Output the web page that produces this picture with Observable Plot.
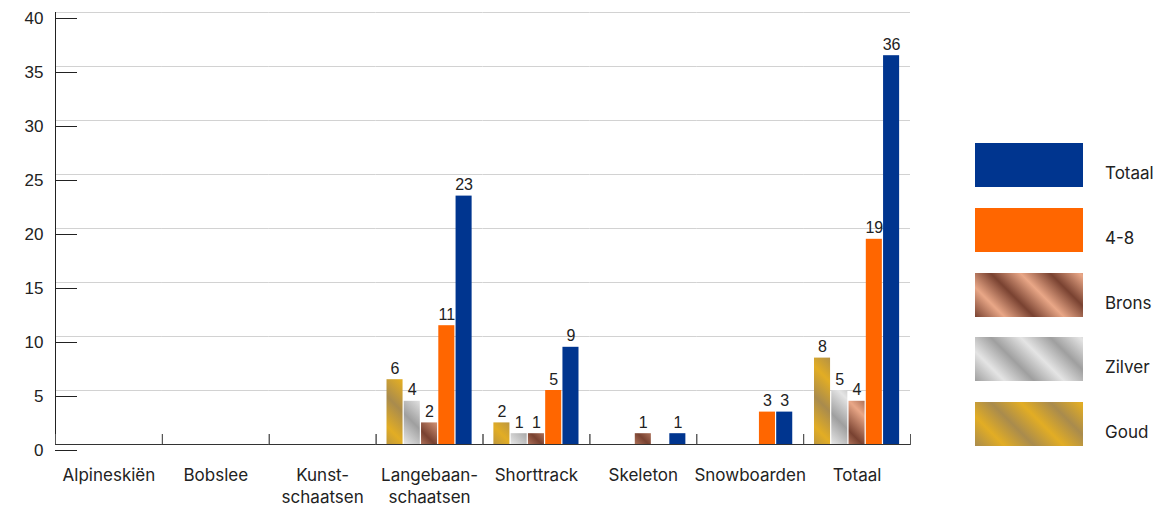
<!DOCTYPE html>
<html><head><meta charset="utf-8">
<script src="https://cdn.jsdelivr.net/npm/d3@7"></script>
<script src="https://cdn.jsdelivr.net/npm/@observablehq/plot@0.6"></script>
<style>
body{margin:0;background:#fff;}
#wrap{position:relative;width:1161px;height:508px;overflow:hidden;}
.sw{position:absolute;left:975px;width:108px;height:44px;}
.lb{position:absolute;left:1105px;font-family:Inter,"Noto Sans",sans-serif;font-size:17px;color:#222;line-height:20px;}
</style>
</head><body>
<div id="wrap"></div>
<script>
const sports = ["Alpineskiën","Bobslee","Kunstschaatsen","Langebaanschaatsen","Shorttrack","Skeleton","Snowboarden","Totaal"];
const sportLabels = ["Alpineskiën","Bobslee","Kunst-\nschaatsen","Langebaan-\nschaatsen","Shorttrack","Skeleton","Snowboarden","Totaal"];
const seriesNames = ["Goud","Zilver","Brons","4-8","Totaal"];
const goud   = [0,0,0,6,2,0,0,8];
const zilver = [0,0,0,4,1,0,0,5];
const brons  = [0,0,0,2,1,1,0,4];
const plek48 = [0,0,0,11,5,0,3,19];
const totaal = [0,0,0,23,9,1,3,36];
const yTicks = [0,5,10,15,20,25,30,35,40];
const legendOrder = ["Totaal","4-8","Brons","Zilver","Goud"];

const values = [goud, zilver, brons, plek48, totaal];
const seriesFills = ["url(#g-goud)","url(#g-zilver)","url(#g-brons)","#ff6600","#00358f"];
const grads = {
  "g-goud":["#a98b4d","#e2ad24"],
  "g-zilver":["#9f9f9f","#e4e4e4"],
  "g-brons":["#794231","#e9a787"]
};

const rows = [];
sports.forEach((s,i)=>seriesNames.forEach((n,j)=>rows.push({sport:s, series:n, value:values[j][i]})));

const chart = Plot.plot({
  width:1161, height:508,
  marginLeft:55, marginRight:251, marginTop:12, marginBottom:64,
  style:{fontFamily:"Inter, sans-serif", background:"#fff"},
  fx:{domain:sports, padding:0, round:false, label:null},
  x:{domain:seriesNames, paddingInner:0.07, paddingOuter:0.63, round:false, axis:null},
  y:{domain:[0,40], label:null},
  color:{domain:seriesNames, range:seriesFills},
  marks:[
    Plot.gridY(yTicks,{stroke:"#d2d2d2", strokeOpacity:1}),
    Plot.axisY(yTicks,{tickSize:-22, tickPadding:34, dy:6, fontSize:17, fontFamily:"Liberation Sans, Arial, sans-serif", color:"#222", label:null}),
    Plot.frame({anchor:"left", facetAnchor:"left", stroke:"#222"}),
    Plot.frame({anchor:"left", insetTop:422, stroke:"#555"}),
    Plot.frame({anchor:"right", insetTop:422, stroke:"#555"}),
    Plot.barY(rows,{fx:"sport", x:"series", y:"value", fill:"series"}),
    Plot.ruleY([0],{stroke:"#333"}),
    Plot.text(rows.filter(d=>d.value>0),{fx:"sport", x:"series", y:"value", text:d=>String(d.value), dy:-6, lineAnchor:"bottom", fontSize:16, fontFamily:"Liberation Sans, Arial, sans-serif", fill:"#222"}),
    Plot.axisFx({anchor:"bottom", tickSize:0, tickPadding:21, tickFormat:d=>sportLabels[sports.indexOf(d)], fontSize:17, fontFamily:"Inter, sans-serif", lineHeight:1.3, color:"#222", label:null})
  ]
});

const defs = d3.select(chart).insert("defs",":first-child");
for (const [id,[dark,light]] of Object.entries(grads)) {
  const g = defs.append("linearGradient").attr("id",id).attr("gradientUnits","userSpaceOnUse")
    .attr("x1",0).attr("y1",30).attr("x2",30).attr("y2",0).attr("spreadMethod","repeat");
  g.append("stop").attr("offset",0).attr("stop-color",dark);
  g.append("stop").attr("offset",0.5).attr("stop-color",light);
  g.append("stop").attr("offset",1).attr("stop-color",dark);
}
const wrap = document.getElementById("wrap");
wrap.appendChild(chart);

const cssFill = n => {
  const j = seriesNames.indexOf(n);
  const f = seriesFills[j];
  if (f.startsWith("url(")) {
    const [dark,light] = grads[f.slice(5,-1)];
    return `repeating-linear-gradient(45deg, ${dark} 0px, ${light} 21px, ${dark} 42px)`;
  }
  return f;
};
legendOrder.forEach((n,i)=>{
  const top = 143 + i*64.75;
  const sw = document.createElement("div");
  sw.className="sw"; sw.style.top = top+"px"; sw.style.background = cssFill(n);
  wrap.appendChild(sw);
  const lb = document.createElement("div");
  lb.className="lb"; lb.style.top = (top+20)+"px"; lb.textContent = n;
  wrap.appendChild(lb);
});
</script>
</body></html>
